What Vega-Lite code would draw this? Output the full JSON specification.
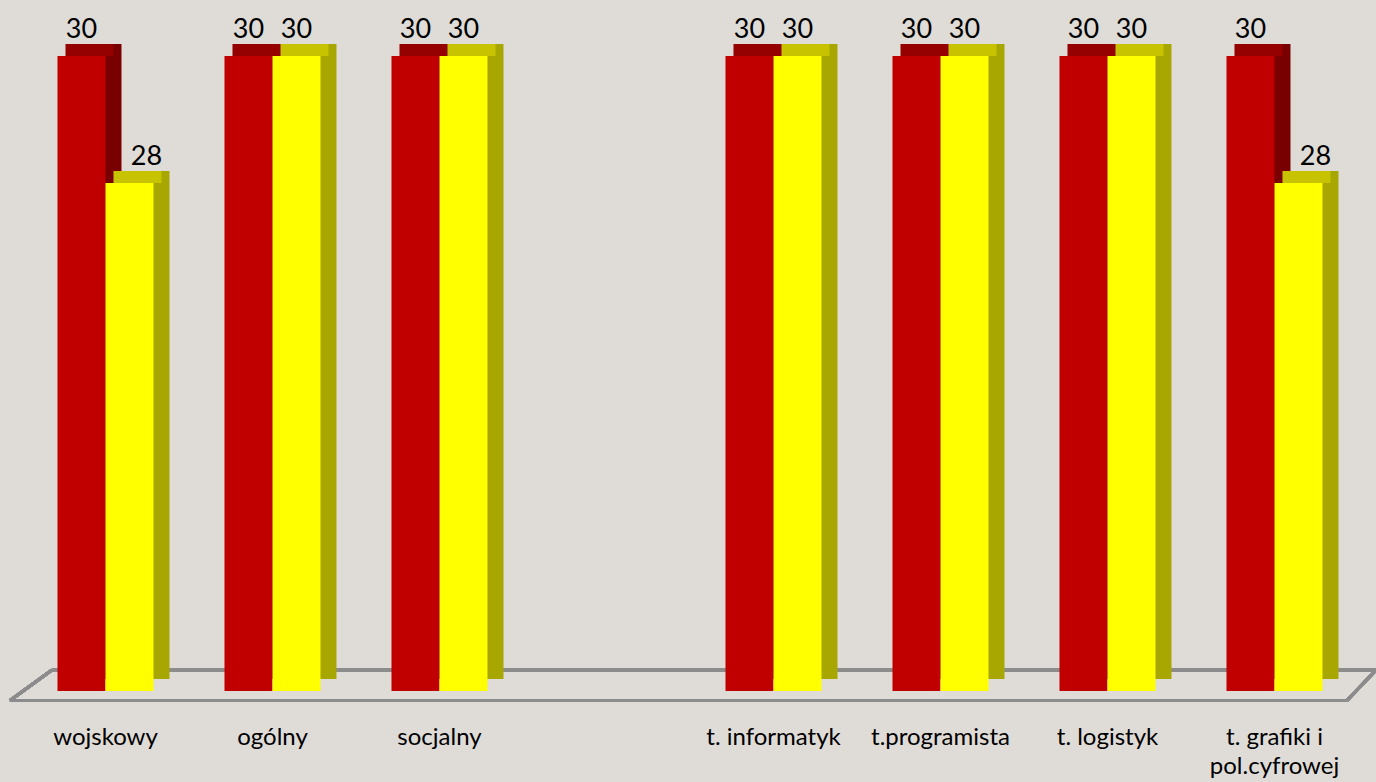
{
  "$schema": "https://vega.github.io/schema/vega-lite/v6.json",
  "width": 1336,
  "height": 691,
  "autosize": {"type": "none"},
  "padding": {"left": 22, "top": 0, "right": 18, "bottom": 91},
  "background": "#dfdcd7",
  "config": {"view": {"stroke": null}, "font": "Lato"},
  "data": {
    "values": [
      {"kierunek": "wojskowy", "seria": "Seria 1", "wartosc": 30},
      {"kierunek": "wojskowy", "seria": "Seria 2", "wartosc": 28},
      {"kierunek": "ogólny", "seria": "Seria 1", "wartosc": 30},
      {"kierunek": "ogólny", "seria": "Seria 2", "wartosc": 30},
      {"kierunek": "socjalny", "seria": "Seria 1", "wartosc": 30},
      {"kierunek": "socjalny", "seria": "Seria 2", "wartosc": 30},
      {"kierunek": "t. informatyk", "seria": "Seria 1", "wartosc": 30},
      {"kierunek": "t. informatyk", "seria": "Seria 2", "wartosc": 30},
      {"kierunek": "t.programista", "seria": "Seria 1", "wartosc": 30},
      {"kierunek": "t.programista", "seria": "Seria 2", "wartosc": 30},
      {"kierunek": "t. logistyk", "seria": "Seria 1", "wartosc": 30},
      {"kierunek": "t. logistyk", "seria": "Seria 2", "wartosc": 30},
      {"kierunek": "t. grafiki i pol.cyfrowej", "seria": "Seria 1", "wartosc": 30},
      {"kierunek": "t. grafiki i pol.cyfrowej", "seria": "Seria 2", "wartosc": 28}
    ]
  },
  "encoding": {
    "x": {
      "field": "kierunek",
      "type": "nominal",
      "sort": null,
      "scale": {
        "domain": ["wojskowy", "ogólny", "socjalny", " ", "t. informatyk", "t.programista", "t. logistyk", "t. grafiki i pol.cyfrowej"],
        "paddingInner": 0.425,
        "paddingOuter": 0.2125
      },
      "axis": {
        "title": null,
        "labelAngle": 0,
        "domain": false,
        "ticks": false,
        "labelFontSize": 24,
        "labelColor": "#000000",
        "labelPadding": 46,
        "labelBaseline": "middle",
        "labelLineHeight": 29,
        "labelExpr": "datum.label == 't. grafiki i pol.cyfrowej' ? ['t. grafiki i', 'pol.cyfrowej'] : datum.label"
      }
    },
    "y": {
      "field": "wartosc",
      "type": "quantitative",
      "scale": {"domain": [20, 30.882], "zero": false, "nice": false},
      "axis": null
    }
  },
  "layer": [
    {
      "mark": {"type": "rule", "color": "#8c8c8c", "strokeWidth": 3, "clip": false, "xOffset": -5.5, "x2Offset": 53.5},
      "encoding": {
        "x": {"datum": "wojskowy", "bandPosition": 0},
        "x2": {"datum": "t. grafiki i pol.cyfrowej", "bandPosition": 1},
        "y": {"datum": 20.331}
      }
    },
    {
      "mark": {"type": "rule", "color": "#8c8c8c", "strokeWidth": 3, "clip": false, "xOffset": -47.5, "x2Offset": 24.5},
      "encoding": {
        "x": {"datum": "wojskowy", "bandPosition": 0},
        "x2": {"datum": "t. grafiki i pol.cyfrowej", "bandPosition": 1},
        "y": {"datum": 19.85}
      }
    },
    {
      "mark": {"type": "rule", "color": "#8c8c8c", "strokeWidth": 3, "clip": false, "xOffset": -47.5, "x2Offset": -5.5},
      "encoding": {
        "x": {"datum": "wojskowy", "bandPosition": 0},
        "x2": {"datum": "wojskowy", "bandPosition": 0},
        "y": {"datum": 19.85},
        "y2": {"datum": 20.331}
      }
    },
    {
      "mark": {"type": "rule", "color": "#8c8c8c", "strokeWidth": 3, "clip": false, "xOffset": 24.5, "x2Offset": 53.5},
      "encoding": {
        "x": {"datum": "t. grafiki i pol.cyfrowej", "bandPosition": 1},
        "x2": {"datum": "t. grafiki i pol.cyfrowej", "bandPosition": 1},
        "y": {"datum": 19.85},
        "y2": {"datum": 20.331}
      }
    },
    {
      "layer": [
        {
          "mark": {"type": "bar", "yOffset": -12, "y2Offset": -12, "clip": false},
          "encoding": {
            "xOffset": {"field": "seria", "type": "nominal", "scale": {"paddingInner": 0, "paddingOuter": 0, "range": [16, 112]}},
            "y2": {"datum": 20},
            "color": {
              "field": "seria",
              "type": "nominal",
              "scale": {"domain": ["Seria 1", "Seria 2"], "range": ["#780000", "#a8a600"]},
              "legend": null
            }
          }
        }
      ]
    },
    {
      "layer": [
        {
          "mark": {"type": "bar", "yOffset": -12, "y2Offset": 0, "clip": false},
          "encoding": {
            "xOffset": {"field": "seria", "type": "nominal", "scale": {"paddingInner": 0, "paddingOuter": 0, "range": [8, 104]}},
            "y2": {"field": "wartosc"},
            "color": {
              "field": "seria",
              "type": "nominal",
              "scale": {"domain": ["Seria 1", "Seria 2"], "range": ["#950000", "#c8c300"]},
              "legend": null
            }
          }
        }
      ]
    },
    {
      "layer": [
        {
          "mark": {"type": "bar", "clip": false},
          "encoding": {
            "xOffset": {"field": "seria", "type": "nominal", "scale": {"paddingInner": 0, "paddingOuter": 0, "range": [0, 96]}},
            "y2": {"datum": 20},
            "color": {
              "field": "seria",
              "type": "nominal",
              "scale": {"domain": ["Seria 1", "Seria 2"], "range": ["#c00000", "#ffff00"]},
              "legend": null
            }
          }
        }
      ]
    },
    {
      "layer": [
        {
          "transform": [{"filter": "datum.wartosc >= 30"}],
          "mark": {"type": "text", "fontSize": 27, "color": "#000000", "dy": -18, "baseline": "alphabetic", "clip": false},
          "encoding": {
            "xOffset": {"field": "seria", "type": "nominal", "scale": {"domain": ["Seria 1", "Seria 2"], "paddingInner": 0, "paddingOuter": 0, "range": [24, 72]}},
            "text": {"field": "wartosc", "type": "quantitative"}
          }
        }
      ]
    },
    {
      "layer": [
        {
          "transform": [{"filter": "datum.wartosc < 30"}],
          "mark": {"type": "text", "fontSize": 27, "color": "#000000", "dy": -18, "baseline": "alphabetic", "clip": false},
          "encoding": {
            "xOffset": {"field": "seria", "type": "nominal", "scale": {"domain": ["Seria 1", "Seria 2"], "paddingInner": 0, "paddingOuter": 0, "range": [40, 89]}},
            "text": {"field": "wartosc", "type": "quantitative"}
          }
        }
      ]
    }
  ],
  "resolve": {"scale": {"color": "independent", "xOffset": "independent"}}
}
